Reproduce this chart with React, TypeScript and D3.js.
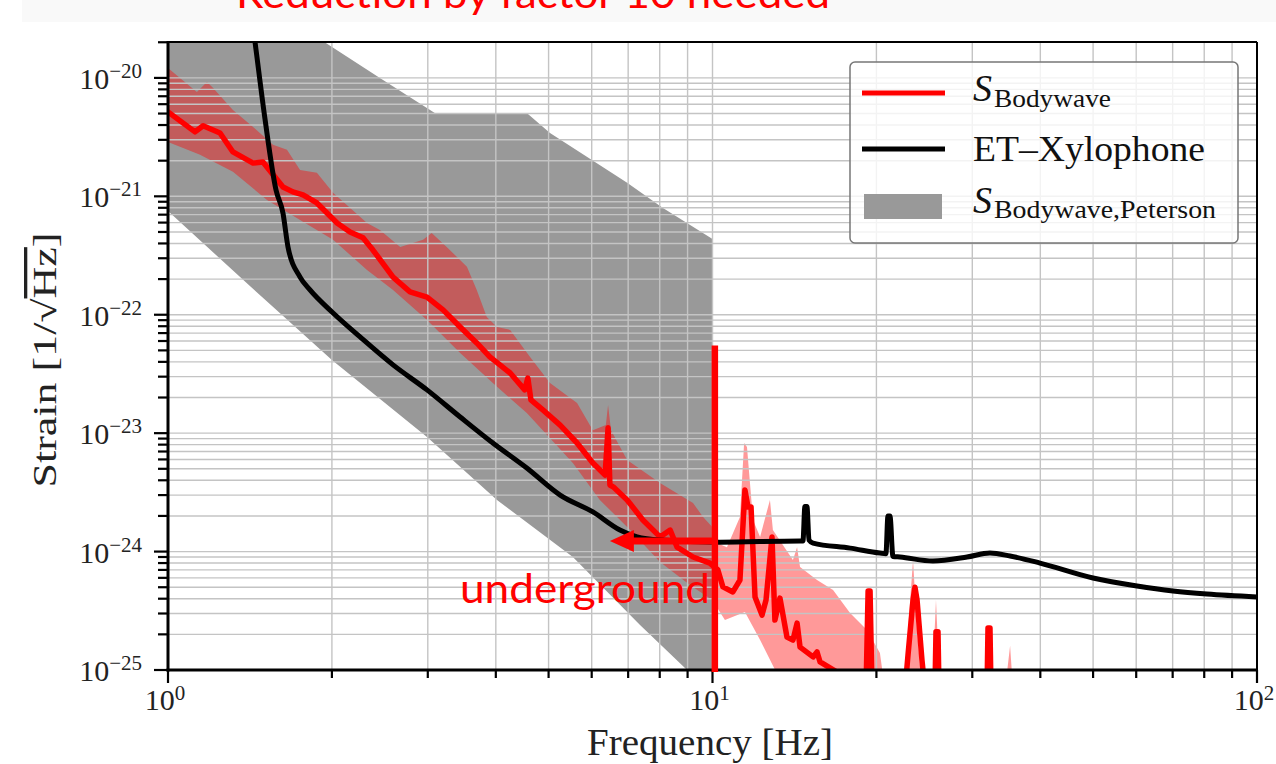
import React from 'react'
import * as d3 from 'd3'

// frequency [Hz], strain [1/sqrt(Hz)]
const etXylophone: [number, number][] = [
  [1.411, 4.6e-20], [1.445, 2.0e-20], [1.507, 4.5e-21], [1.579, 1.13e-21], [1.626, 7.24e-22],
  [1.661, 3.74e-22], [1.748, 2.08e-22], [1.823, 1.62e-22], [2.01, 1.035e-22], [2.253, 6.49e-23],
  [2.59, 3.77e-23], [2.99, 2.32e-23], [3.44, 1.37e-23], [3.95, 8.26e-24], [4.56, 5.08e-24],
  [5.25, 3.0e-24], [6.03, 2.16e-24], [6.76, 1.52e-24], [7.27, 1.33e-24], [8.01, 1.25e-24],
  [10.32, 1.2e-24], [14.48, 1.23e-24], [14.66, 1.23e-24], [14.78, 2.4e-24], [14.91, 2.4e-24],
  [15.04, 1.25e-24], [15.3, 1.18e-24], [17.89, 1.07e-24], [20.3, 9.73e-25], [20.82, 9.6e-25],
  [21.0, 2.0e-24], [21.18, 2.0e-24], [21.45, 9.1e-25], [22.1, 9.0e-25], [25.4, 8.33e-25],
  [29.34, 9.0e-25], [32.33, 9.73e-25], [35.2, 9.18e-25], [39.95, 8.0e-25], [49.98, 5.98e-25],
  [60.2, 5.12e-25], [70.1, 4.65e-25], [80.9, 4.38e-25], [100, 4.14e-25],
]

const bodywave: [number, number][] = [
  [1.0, 5.16e-21], [1.121, 3.5e-21], [1.16, 3.94e-21], [1.246, 3.43e-21], [1.316, 2.37e-21],
  [1.433, 1.91e-21], [1.494, 1.95e-21], [1.626, 1.2e-21], [1.696, 1.09e-21], [1.77, 1.03e-21],
  [1.877, 8.79e-22], [2.044, 5.95e-22], [2.159, 5.0e-22], [2.281, 4.46e-22], [2.379, 3.52e-22],
  [2.59, 2.08e-22], [2.783, 1.56e-22], [2.99, 1.41e-22], [3.2, 1.1e-22], [3.44, 7.88e-23],
  [3.69, 5.78e-23], [3.9, 4.41e-23], [4.07, 3.77e-23], [4.25, 3.22e-23], [4.52, 2.32e-23],
  [4.58, 2.92e-23], [4.64, 1.91e-23], [4.88, 1.57e-23], [5.25, 1.17e-23], [5.64, 8.26e-24],
  [6.03, 5.6e-24], [6.35, 4.43e-24], [6.43, 1.11e-23], [6.48, 3.65e-24], [6.57, 3.52e-24],
  [6.97, 2.73e-24], [7.45, 1.85e-24], [8.01, 1.33e-24], [8.36, 1.52e-24], [8.61, 1.09e-24],
  [9.21, 9.0e-25], [9.89, 8.0e-25], [10.23, 7.0e-25], [10.45, 5.03e-25], [10.9, 4.56e-25],
  [11.23, 5.75e-25], [11.47, 3.31e-24], [11.62, 2.38e-24], [11.77, 2.38e-24], [11.97, 4.14e-25],
  [12.33, 2.91e-25], [12.54, 3.9e-25], [12.86, 1.33e-24], [13.02, 2.64e-25], [13.3, 4.05e-25],
  [13.7, 1.9e-25], [14.05, 1.79e-25], [14.3, 2.49e-25], [14.48, 1.56e-25], [15.3, 1.29e-25],
  [15.56, 1.42e-25], [15.76, 1.17e-25], [16.93, 9.6e-26], [17.89, 6.8e-26], [19.14, 6.8e-26],
  [19.31, 4.65e-25], [19.47, 4.65e-25], [19.63, 6.8e-26], [22.57, 6.8e-26], [22.86, 1.34e-25],
  [23.35, 3.9e-25], [23.54, 5.0e-25], [23.75, 3.9e-25], [24.25, 1.21e-25], [24.56, 6.8e-26],
  [25.62, 6.8e-26], [25.73, 2.1e-25], [25.95, 2.1e-25], [26.06, 6.8e-26], [31.93, 6.8e-26],
  [32.06, 2.26e-25], [32.33, 2.26e-25], [32.47, 6.8e-26], [33.73, 6.8e-26],
]

const bodywaveUpper: [number, number][] = [
  [1.0, 1.21e-20], [1.052, 1.0e-20], [1.13, 7.62e-21], [1.179, 9.25e-21], [1.209, 8.24e-21],
  [1.316, 5.37e-21], [1.433, 3.85e-21], [1.559, 2.72e-21], [1.654, 2.47e-21], [1.748, 1.67e-21],
  [1.877, 1.58e-21], [2.01, 1.07e-21], [2.32, 5.95e-22], [2.45, 5.2e-22], [2.67, 3.74e-22],
  [2.94, 4.29e-22], [3.05, 4.91e-22], [3.25, 3.74e-22], [3.54, 2.54e-22], [3.69, 1.62e-22],
  [3.85, 9.57e-23], [4.02, 7.88e-23], [4.25, 7.45e-23], [4.62, 4.41e-23], [5.03, 2.65e-23],
  [5.64, 1.8e-23], [6.03, 1.06e-23], [6.37, 1.17e-23], [6.43, 1.73e-23], [6.51, 1.06e-23],
  [6.97, 5.94e-24], [8.01, 3.79e-24], [9.21, 2.57e-24], [9.61, 1.96e-24], [9.99, 1.61e-24],
  [10.19, 1.18e-24], [10.63, 1.09e-24], [11.23, 1.96e-24], [11.43, 8.26e-24], [11.57, 7.63e-24],
  [11.87, 1.85e-24], [12.23, 1.33e-24], [12.75, 2.73e-24], [12.91, 1.52e-24], [14.05, 8.49e-25],
  [14.3, 1.09e-24], [14.48, 7.41e-25], [15.56, 5.75e-25], [16.65, 4.74e-25], [17.89, 3.03e-25],
  [19.22, 2.18e-25], [20.3, 1.39e-25], [20.74, 6.8e-26], [22.57, 6.8e-26], [22.86, 2.18e-25],
  [23.35, 8.5e-25], [23.75, 2.18e-25], [24.25, 6.8e-26], [25.3, 6.8e-26], [25.73, 3.9e-25],
  [26.17, 6.8e-26], [34.45, 6.8e-26], [35.2, 1.6e-25], [35.64, 6.8e-26],
]

const bodywaveLower: [number, number][] = [
  [1.0, 2.88e-21], [1.145, 2.24e-21], [1.316, 1.61e-21], [1.52, 9.33e-22], [1.748, 6.32e-22],
  [2.01, 4.29e-22], [2.32, 2.39e-22], [2.59, 1.62e-22], [2.99, 9.04e-23], [3.44, 4.75e-23],
  [3.95, 2.65e-23], [4.56, 1.48e-23], [5.54, 5.6e-24], [6.21, 2.73e-24], [7.06, 1.52e-24],
  [8.01, 8.17e-25], [9.09, 5.22e-25], [9.99, 3.9e-25], [10.54, 2.64e-25], [11.47, 3.09e-25],
  [12.23, 1.79e-25], [13.59, 6.8e-26], [35.64, 6.8e-26],
]

const petersonUpper: [number, number][] = [
  [1.0, 1.5e-19], [1.94, 2.0e-20], [2.45, 1.0e-20], [3.09, 5.06e-21], [4.56, 5.06e-21],
  [5.03, 3.43e-21], [6.97, 1.3e-21], [8.11, 7.98e-22], [10.0, 4.37e-22],
]

const petersonLower: [number, number][] = [
  [1.0, 7.5e-22], [1.414, 1.75e-22], [2.0, 4.15e-23], [2.99, 9.3e-24], [4.02, 2.73e-24],
  [5.54, 9.0e-25], [7.36, 2.4e-25], [8.98, 1.0e-25], [10.0, 6.5e-26],
]

const xMajor = [1, 10, 100]
const xMajorLabels = ['0', '1', '2']
const yMajor = [1e-25, 1e-24, 1e-23, 1e-22, 1e-21, 1e-20]
const yMajorLabels = ['−25', '−24', '−23', '−22', '−21', '−20']

// annotation: cut at 10 Hz, arrow towards low frequencies
const cutFreq = 10.1
const cutTop = 5.5e-23
const arrowFrom = 10.1
const arrowTo = 6.48
const arrowLevel = 1.23e-24

const serif = '"Liberation Serif", "DejaVu Serif", serif'
const sans = 'Lato, "Open Sans", sans-serif'

export default function App() {
  const left = 168, right = 1257, top = 42, bottom = 670

  const x = d3.scaleLog().domain([1, 100]).range([left, right])
  const y = d3.scaleLog().domain([1e-25, 2.01e-20]).range([bottom, top])

  const line = d3.line<[number, number]>().x(d => x(d[0])).y(d => y(d[1]))
  const smooth = d3.line<[number, number]>().x(d => x(d[0])).y(d => y(d[1])).curve(d3.curveMonotoneX)

  const peterson = line(petersonUpper.concat(petersonLower.slice().reverse())) + 'Z'
  const band = line(bodywaveUpper.concat(bodywaveLower.slice().reverse())) + 'Z'

  const xMinor: number[] = []
  const yMinor: number[] = []
  for (const d of [1, 10]) for (let k = 2; k <= 9; k++) xMinor.push(k * d)
  for (let e = -25; e <= -21; e++) for (let k = 2; k <= 9; k++) yMinor.push(k * Math.pow(10, e))
  yMinor.push(2e-20)

  const ax = x(arrowTo)
  const ay = y(arrowLevel)

  return (
    <svg width={1276} height={764} style={{ position: 'absolute', left: 0, top: 0, background: '#fff' }}>
      <defs>
        <clipPath id="plot">
          <rect x={left} y={top} width={right - left} height={bottom - top} />
        </clipPath>
      </defs>

      {/* slide title, cut at the top like in the slide */}
      <rect x={22} y={0} width={1254} height={22} fill="#f9f9f9" />
      <text x={236} y={8} fill="#ff0000" fontFamily={sans} fontSize={40} textLength={594} lengthAdjust="spacingAndGlyphs">
        Reduction by factor 10 needed
      </text>

      <g clipPath="url(#plot)">
        <path d={peterson} fill="#999999" />
        <path d={band} fill="#ff0000" fillOpacity={0.4} />
        <g stroke="#c4c4c4" strokeWidth={1.4}>
          {xMajor.concat(xMinor).map(v => (
            <line key={'gx' + v} x1={x(v)} x2={x(v)} y1={top} y2={bottom} />
          ))}
          {yMajor.concat(yMinor).map(v => (
            <line key={'gy' + v} x1={left} x2={right} y1={y(v)} y2={y(v)} />
          ))}
        </g>
        <path d={line(bodywave)!} fill="none" stroke="#ff0000" strokeWidth={5.5} strokeLinejoin="round" strokeLinecap="round" />
        <path d={smooth(etXylophone)!} fill="none" stroke="#000" strokeWidth={5} strokeLinejoin="round" />
      </g>

      {/* frame */}
      <g fill="none" stroke="#000">
        <line x1={left} x2={right} y1={top} y2={top} strokeWidth={2} />
        <line x1={right} x2={right} y1={top} y2={bottom} strokeWidth={2} />
        <line x1={left} x2={left} y1={top - 1} y2={bottom + 1.5} strokeWidth={3} />
        <line x1={left - 1.5} x2={right + 1} y1={bottom} y2={bottom} strokeWidth={3} />
      </g>

      {/* ticks */}
      <g stroke="#000" strokeWidth={2.2}>
        {yMajor.map(v => <line key={'ty' + v} x1={left - 14} x2={left} y1={y(v)} y2={y(v)} />)}
        {yMinor.map(v => <line key={'tym' + v} x1={left - 10} x2={left} y1={y(v)} y2={y(v)} />)}
        {xMajor.map(v => <line key={'tx' + v} x1={x(v)} x2={x(v)} y1={bottom} y2={bottom + 13} />)}
        {xMinor.map(v => <line key={'txm' + v} x1={x(v)} x2={x(v)} y1={bottom} y2={bottom + 8} />)}
      </g>

      <g fontFamily={serif} fill="#222">
        {yMajor.map((v, i) => (
          <text key={'ly' + v} x={142} y={y(v) + 11} textAnchor="end" fontSize={30}>
            10<tspan dy={-11} fontSize={21}>{yMajorLabels[i]}</tspan>
          </text>
        ))}
        {xMajor.map((v, i) => (
          <text key={'lx' + v} x={x(v) - 3} y={710} textAnchor="middle" fontSize={30}>
            10<tspan dy={-10} fontSize={21}>{xMajorLabels[i]}</tspan>
          </text>
        ))}
        <text x={710} y={755} textAnchor="middle" fontSize={37} textLength={246} lengthAdjust="spacingAndGlyphs">
          Frequency [Hz]
        </text>
        <text transform="translate(56,360) rotate(-90)" textAnchor="middle" fontSize={33} textLength={255} lengthAdjust="spacingAndGlyphs">
          Strain [1/√<tspan style={{ textDecoration: 'overline' }}>Hz</tspan>]
        </text>
      </g>

      {/* annotation */}
      <line x1={x(cutFreq)} x2={x(cutFreq)} y1={y(cutTop)} y2={bottom + 2} stroke="#ff0000" strokeWidth={6.5} />
      <line x1={x(arrowFrom)} x2={ax + 18} y1={ay} y2={ay} stroke="#ff0000" strokeWidth={7} />
      <path d={`M${ax},${ay}L${ax + 24},${ay - 11}L${ax + 24},${ay + 11}Z`} fill="#ff0000" />
      <text x={460} y={603} fill="#ff0000" fontFamily={sans} fontSize={40} textLength={250} lengthAdjust="spacingAndGlyphs">
        underground
      </text>

      {/* legend */}
      <g fontFamily={serif} fill="#111">
        <rect x={850} y={62} width={388} height={181} rx={5} fill="#fff" fillOpacity={0.8} stroke="#777" strokeWidth={1.5} />
        <line x1={862} x2={945} y1={93} y2={93} stroke="#ff0000" strokeWidth={5} />
        <line x1={862} x2={945} y1={149} y2={149} stroke="#000" strokeWidth={5} />
        <rect x={864} y={194} width={78} height={25} fill="#999999" />
        <text x={973} y={101} fontSize={38} fontStyle="italic">
          S<tspan dx={2} dy={6} fontSize={25} fontStyle="normal" textLength={117} lengthAdjust="spacingAndGlyphs">Bodywave</tspan>
        </text>
        <text x={973} y={161} fontSize={35} textLength={232} lengthAdjust="spacingAndGlyphs">ET–Xylophone</text>
        <text x={973} y={213} fontSize={38} fontStyle="italic">
          S<tspan dx={2} dy={5} fontSize={25} fontStyle="normal" textLength={222} lengthAdjust="spacingAndGlyphs">Bodywave,Peterson</tspan>
        </text>
      </g>
    </svg>
  )
}
